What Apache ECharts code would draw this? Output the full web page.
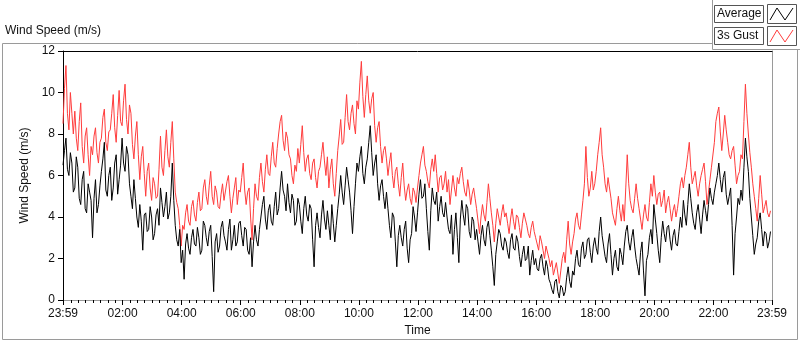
<!DOCTYPE html>
<html>
<head>
<meta charset="utf-8">
<script src="https://cdn.jsdelivr.net/npm/echarts@6/dist/echarts.min.js"></script>
<style>html,body{margin:0;padding:0;background:#fff;}#c{width:800px;height:342px;}</style>
</head>
<body>
<div id="c"></div>
<script>
// ---- data (one sample every 3 minutes, starting 23:59) ----
const startMinute = -1;
const stepMinutes = 3;
const averageSpeed = [
  6.5,7.2,7.8,6.3,6.0,7.1,6.6,5.2,5.4,6.9,6.4,4.9,4.6,5.8,6.2,4.4,4.2,5.6,5.2,4.8,
  3.0,4.9,5.8,4.2,4.6,5.5,6.2,6.8,7.6,5.3,5.0,6.0,6.4,4.8,5.4,6.6,7.0,5.1,5.8,6.5,
  7.8,6.6,6.2,7.4,7.0,5.6,5.0,4.4,5.8,4.9,4.0,3.5,4.6,3.8,2.4,4.1,4.2,3.3,3.4,4.5,
  4.0,2.9,3.2,4.1,4.4,3.6,5.4,4.7,4.0,4.5,5.2,3.9,4.2,5.0,6.6,4.8,3.6,2.9,2.6,3.4,
  1.8,2.4,1.0,2.7,3.2,2.5,2.2,3.0,3.4,2.7,2.6,3.5,3.0,2.2,2.4,3.8,3.6,3.0,2.6,3.3,
  3.6,2.1,0.4,2.8,3.2,2.3,2.6,3.5,3.8,3.1,2.8,2.4,3.4,3.9,2.4,2.9,3.6,2.6,2.8,3.7,
  3.8,3.1,2.6,3.5,3.4,2.4,2.2,3.0,1.6,2.8,3.6,2.9,2.6,3.4,4.0,4.6,5.0,3.9,3.4,4.3,
  4.6,3.8,3.6,4.5,5.2,4.1,4.4,5.4,6.2,5.3,5.0,4.3,5.6,4.7,4.2,5.1,4.8,3.6,3.8,4.9,
  4.6,3.8,3.2,4.4,5.0,4.1,3.8,4.6,4.4,2.9,1.6,3.6,4.2,3.5,3.0,4.1,4.8,3.9,3.4,4.3,
  3.6,2.9,4.6,3.7,2.8,3.6,4.4,5.1,6.0,5.2,4.6,5.5,6.4,5.8,5.2,4.3,3.2,4.5,5.6,6.6,
  6.2,6.9,7.4,6.1,5.6,6.4,6.8,7.6,8.4,7.1,6.0,6.6,7.0,5.6,4.8,5.5,5.8,5.0,4.4,5.2,
  4.4,3.6,3.0,4.2,4.0,2.8,1.6,3.1,3.6,3.0,2.6,3.4,3.8,2.5,1.8,2.9,3.2,4.5,4.0,3.3,
  4.2,5.1,5.8,4.9,5.0,5.6,4.4,3.3,2.4,4.3,5.4,4.8,4.6,5.2,3.8,4.5,5.0,4.2,4.0,4.7,
  4.0,3.4,3.2,4.1,2.2,3.4,4.2,3.0,1.8,3.9,4.8,4.1,3.6,4.6,4.4,3.3,3.0,4.0,3.8,2.9,
  3.4,2.8,2.2,3.1,3.6,2.9,2.6,3.5,3.8,3.1,2.4,1.6,0.7,2.2,2.8,3.4,3.2,2.6,2.4,3.0,
  2.8,2.3,2.0,2.9,3.2,2.5,2.4,3.1,2.8,2.1,1.6,2.2,2.6,1.9,2.0,2.6,1.2,1.9,2.4,1.7,
  2.0,1.5,1.4,2.0,2.2,1.6,1.2,1.9,1.6,1.0,0.8,0.5,0.3,0.9,1.0,0.4,0.1,0.7,0.6,0.2,
  0.4,1.1,1.6,0.9,0.6,1.4,1.2,2.0,2.4,1.7,1.6,2.5,2.8,2.0,2.2,2.9,3.0,2.3,1.8,2.6,
  3.0,2.5,2.2,3.3,4.0,3.1,2.6,2.1,1.8,2.7,3.2,2.2,1.2,2.0,2.4,1.6,1.4,2.5,2.2,1.7,
  2.6,3.3,3.6,2.8,2.4,3.0,3.4,2.6,2.0,1.6,1.2,2.3,2.8,1.4,0.2,1.9,2.2,3.0,3.4,2.7,
  4.6,3.9,3.2,2.4,1.8,3.0,3.8,3.2,2.8,3.5,3.6,2.9,2.4,3.1,3.4,2.7,2.6,3.3,4.0,3.5,
  4.8,4.1,3.6,4.6,5.6,4.9,4.2,3.7,3.4,4.2,4.6,3.9,3.2,4.1,4.8,4.3,3.8,4.6,5.4,4.9,
  4.6,5.2,5.6,6.0,6.6,5.8,5.2,5.9,6.2,5.1,4.6,5.0,5.4,3.6,1.2,3.2,4.0,4.9,4.6,5.3,
  4.8,6.4,7.8,6.9,6.2,4.9,4.0,3.1,2.2,2.7,3.0,3.8,4.2,3.4,2.6,3.3,3.2,2.5,2.8,3.3
];
const gustSpeed = [
  8.5,10.2,11.3,9.0,8.2,10.0,9.0,8.0,9.1,7.8,7.2,8.6,9.5,7.4,6.6,7.9,8.3,7.0,6.0,7.4,
  7.0,7.9,8.3,7.1,6.6,7.6,7.8,8.8,9.2,7.6,7.2,8.1,8.2,9.0,9.9,8.3,7.6,8.9,10.1,8.6,
  8.4,9.6,10.4,8.7,8.0,9.4,9.0,7.5,6.8,7.9,8.6,7.0,5.8,6.9,7.4,6.1,5.0,6.2,6.6,5.4,
  4.8,5.9,5.6,4.9,5.0,6.3,7.9,6.4,6.0,7.2,8.2,6.9,6.4,7.6,8.6,6.8,5.2,4.7,4.4,3.6,
  2.6,3.6,3.4,4.2,4.6,3.8,3.6,4.5,4.8,4.1,3.8,4.7,5.2,4.3,4.4,5.4,5.8,5.0,4.6,5.5,
  6.2,5.0,4.6,5.5,5.2,4.5,4.4,5.1,5.6,4.8,4.8,5.7,6.0,5.0,4.2,4.9,5.4,5.9,4.6,5.3,
  5.2,5.9,6.6,5.3,4.6,5.2,5.4,4.0,2.9,4.4,5.6,5.0,4.8,5.9,6.6,5.7,5.2,6.3,7.0,6.1,
  6.0,6.9,7.6,6.6,6.4,7.3,8.0,8.6,8.9,7.7,7.2,8.1,7.8,7.0,6.8,6.0,5.6,6.5,6.2,7.3,
  6.6,7.5,8.4,7.1,6.2,6.8,7.0,6.1,5.8,6.6,6.8,5.9,5.4,6.2,6.4,7.0,7.6,6.7,6.0,6.9,
  5.4,6.3,6.8,5.6,5.0,6.1,7.2,7.9,8.7,7.5,7.6,8.8,9.9,8.6,8.2,9.0,9.4,8.5,8.0,9.6,
  9.2,10.5,11.5,9.8,8.8,9.9,10.8,9.6,9.0,9.7,10.0,8.4,7.6,8.3,8.6,7.4,6.6,7.2,7.4,6.8,
  6.0,6.6,7.1,6.0,5.4,6.2,6.4,5.6,5.0,5.9,6.6,5.5,4.8,5.3,5.6,4.9,4.6,5.4,5.2,4.7,
  5.4,6.0,6.6,7.0,7.4,6.5,6.2,5.7,5.4,6.3,6.8,6.2,7.0,6.1,5.2,5.9,6.0,5.3,5.6,6.2,
  5.2,5.8,4.6,5.3,6.0,5.4,5.0,5.9,5.6,6.1,6.4,5.7,5.2,5.0,5.8,5.3,4.6,5.1,5.4,4.9,
  4.4,3.8,3.2,4.0,4.6,4.1,3.8,4.7,5.6,4.9,4.2,3.6,2.8,3.7,4.4,4.0,3.6,4.2,4.6,4.0,
  4.2,3.7,3.2,3.9,4.4,3.8,3.4,4.1,4.0,3.5,3.0,3.7,4.2,3.9,3.6,3.2,3.0,3.5,3.8,3.3,
  3.0,2.7,2.4,3.1,2.8,2.4,2.0,2.6,2.6,2.0,1.6,1.9,1.2,1.5,1.8,1.3,0.8,1.4,2.0,2.3,
  1.8,2.9,3.8,2.7,2.2,2.8,3.2,3.9,4.2,3.6,3.4,4.1,4.8,5.6,7.4,5.9,5.0,5.4,6.2,5.3,
  5.6,6.2,7.0,7.6,8.3,7.0,6.4,5.6,5.2,5.9,5.9,4.9,4.2,3.9,3.6,4.4,5.0,4.3,3.8,4.6,
  3.8,5.4,7.0,5.6,4.8,4.4,4.2,4.9,5.6,4.9,4.4,3.9,3.4,4.1,4.6,4.0,3.8,4.7,5.6,5.0,
  6.0,5.2,4.6,5.1,5.2,4.5,4.8,5.3,4.2,4.7,5.0,4.4,3.8,4.3,4.6,4.0,4.4,5.0,5.6,5.9,
  5.4,6.0,6.4,7.0,7.6,6.4,5.6,5.9,6.2,5.5,5.0,5.6,6.0,6.3,6.6,5.7,4.6,5.2,5.8,6.4,
  6.4,7.6,8.6,9.0,9.3,8.1,7.2,8.0,8.9,8.2,7.6,7.0,6.8,7.2,7.4,6.5,5.6,6.0,6.2,7.0,
  6.8,8.6,10.4,9.0,8.0,7.1,6.4,5.6,5.0,4.4,3.8,4.9,6.0,5.1,4.2,4.5,4.8,4.2,4.0,4.3
];
const majorTickMinutes = [-1,120,240,360,480,600,720,840,960,1080,1200,1320,1439];
const majorTickLabels = ['23:59','02:00','04:00','06:00','08:00','10:00','12:00','14:00','16:00','18:00','20:00','22:00','23:59'];
const minorTickMinutes = [];
for (let m = 0; m < 1439; m += 15) minorTickMinutes.push(m);

const avgData = averageSpeed.map((v,i)=>[startMinute + i*stepMinutes, v]);
const gustData = gustSpeed.map((v,i)=>[startMinute + i*stepMinutes, v]);

const FONT = 'Liberation Sans';
const TXT = '#111';
const FRAME = '#9a9a9a';
const RED = '#ff3c3c';

const chart = echarts.init(document.getElementById('c'), null, {renderer:'canvas'});
chart.setOption({
  animation: false,
  backgroundColor: '#fff',
  textStyle: {fontFamily: FONT},
  grid: {left: 63, top: 51, right: 28, bottom: 40, containLabel: false},
  xAxis: [
    {
      type: 'value', position: 'bottom', min: -1, max: 1439,
      axisLine: {show: true, onZero: false, lineStyle: {color: FRAME, width: 1}},
      axisTick: {show: true, length: 5, customValues: majorTickMinutes, lineStyle: {color: '#000'}},
      axisLabel: {show: true, customValues: majorTickMinutes, margin: 8, fontSize: 12, color: TXT, fontFamily: FONT,
        formatter: function(v){ const i = majorTickMinutes.indexOf(Math.round(v)); return i>=0 ? majorTickLabels[i] : ''; }},
      splitLine: {show: false},
      name: 'Time', nameLocation: 'middle', nameGap: 25,
      nameTextStyle: {fontSize: 12, color: TXT, fontFamily: FONT}
    },
    {
      type: 'value', position: 'bottom', min: -1, max: 1439,
      axisLine: {show: false, onZero: false},
      axisTick: {show: true, length: 3, customValues: minorTickMinutes, lineStyle: {color: '#000'}},
      axisLabel: {show: false},
      splitLine: {show: false}
    },
    {
      type: 'value', position: 'top', min: -1, max: 1439,
      axisLine: {show: true, onZero: false, lineStyle: {color: '#000', width: 1}},
      axisTick: {show: false}, axisLabel: {show: false}, splitLine: {show: false}
    }
  ],
  yAxis: [
    {
      type: 'value', position: 'left', min: 0, max: 12, interval: 2,
      axisLine: {show: true, onZero: false, lineStyle: {color: '#000', width: 1}},
      axisTick: {show: true, length: 5, lineStyle: {color: '#000'}},
      axisLabel: {margin: 8, fontSize: 12, color: TXT, fontFamily: FONT},
      splitLine: {show: false},
      name: 'Wind Speed (m/s)', nameLocation: 'middle', nameGap: 32,
      nameTextStyle: {fontSize: 12, color: TXT, fontFamily: FONT}
    },
    {
      type: 'value', position: 'right', min: 0, max: 12,
      axisLine: {show: true, onZero: false, lineStyle: {color: FRAME, width: 1}},
      axisTick: {show: false}, axisLabel: {show: false}, splitLine: {show: false}
    }
  ],
  series: [
    {name: '3s Gust', type: 'line', xAxisIndex: 0, yAxisIndex: 0, data: gustData,
     showSymbol: false, lineStyle: {color: RED, width: 1}, itemStyle: {color: RED}, z: 2},
    {name: 'Average', type: 'line', xAxisIndex: 0, yAxisIndex: 0, data: avgData,
     showSymbol: false, lineStyle: {color: '#000', width: 1}, itemStyle: {color: '#000'}, z: 3}
  ],
  graphic: [
    {type: 'polyline', shape: {points: [[712,43.5],[2.5,43.5],[2.5,339.5],[797.5,339.5],[797.5,49.5]]},
     style: {stroke: FRAME, fill: null, lineWidth: 1}, silent: true},
    {type: 'polyline', shape: {points: [[712.5,0],[712.5,49.5],[800,49.5]]},
     style: {stroke: FRAME, fill: null, lineWidth: 1}, silent: true},
    {type: 'text', left: 5, top: 25, style: {text: 'Wind Speed (m/s)', font: '12px "Liberation Sans"', fill: TXT}},
    {type: 'rect', shape: {x: 714.5, y: 5.5, width: 49, height: 17}, style: {fill: '#fff', stroke: '#555', lineWidth: 1}},
    {type: 'text', left: 717, top: 8, style: {text: 'Average', font: '12px "Liberation Sans"', fill: TXT}},
    {type: 'rect', shape: {x: 767.5, y: 4.5, width: 29, height: 19}, style: {fill: '#fff', stroke: '#555', lineWidth: 1}},
    {type: 'polyline', shape: {points: [[770,20],[777,8],[785,20],[793,8]]}, style: {stroke: '#000', fill: null, lineWidth: 1}},
    {type: 'rect', shape: {x: 714.5, y: 27.5, width: 49, height: 17}, style: {fill: '#fff', stroke: '#555', lineWidth: 1}},
    {type: 'text', left: 717, top: 30, style: {text: '3s Gust', font: '12px "Liberation Sans"', fill: TXT}},
    {type: 'rect', shape: {x: 767.5, y: 26.5, width: 29, height: 19}, style: {fill: '#fff', stroke: '#555', lineWidth: 1}},
    {type: 'polyline', shape: {points: [[770,42],[777,30],[785,42],[793,30]]}, style: {stroke: RED, fill: null, lineWidth: 1}}
  ]
});
</script>
</body>
</html>
